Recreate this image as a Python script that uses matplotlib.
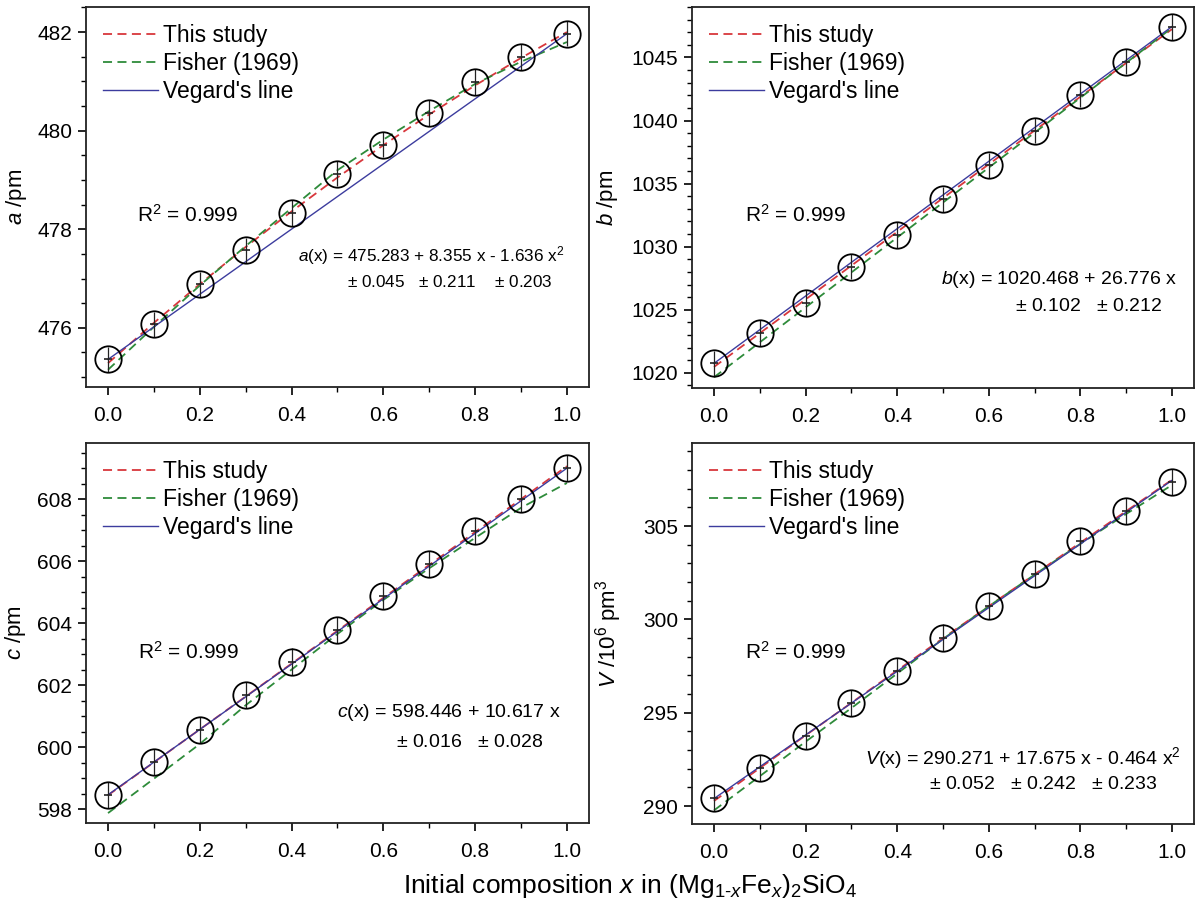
import matplotlib
matplotlib.use('Agg')
import matplotlib.pyplot as plt
from matplotlib.ticker import MultipleLocator, AutoMinorLocator

plt.rcParams['font.family'] = ['Liberation Sans', 'DejaVu Sans']
plt.rcParams['mathtext.fontset'] = 'custom'
plt.rcParams['mathtext.rm'] = 'Liberation Sans'
plt.rcParams['mathtext.it'] = 'Liberation Sans:italic'

# composition
x = [0.0, 0.1, 0.2, 0.3, 0.4, 0.5, 0.6, 0.7, 0.8, 0.9, 1.0]
x_end = [0.0, 1.0]

a_data = [475.36, 476.07, 476.88, 477.57, 478.33, 479.13, 479.72, 480.36, 480.99, 481.49, 481.97]
b_data = [1020.75, 1023.16, 1025.53, 1028.42, 1030.92, 1033.76, 1036.45, 1039.21, 1042.05, 1044.66, 1047.42]
c_data = [598.46, 599.51, 600.56, 601.69, 602.76, 603.78, 604.86, 605.90, 606.96, 608.00, 609.00]
V_data = [290.45, 292.04, 293.75, 295.52, 297.23, 299.03, 300.73, 302.41, 304.19, 305.80, 307.38]

# vertical bars drawn through each circle
a_err = [0.26] * 11
b_err = [1.0] * 11
c_err = [0.42] * 11
V_err = [0.7] * 11

# this study (fit)
a_fit = [475.283, 476.102, 476.889, 477.642, 478.363, 479.052, 479.707, 480.330, 480.920, 481.477, 482.002]
b_fit = [1020.468, 1047.244]
c_fit = [598.446, 609.063]
V_fit = [290.271, 292.034, 293.787, 295.532, 297.267, 298.993, 300.709, 302.416, 304.114, 305.803, 307.482]

# Fisher (1969)
a_fis = [475.15, 476.02, 476.86, 477.66, 478.43, 479.20, 479.82, 480.40, 480.95, 481.40, 481.80]
b_fis = [1019.65, 1047.35]
c_fis = [597.87, 598.98, 600.10, 601.35, 602.50, 603.65, 604.75, 605.77, 606.75, 607.72, 608.52]
V_fis = [289.77, 291.60, 293.45, 295.25, 297.10, 298.95, 300.70, 302.40, 304.05, 305.65, 307.20]

# Vegard's line
a_veg = [475.36, 481.97]
b_veg = [1020.75, 1047.45]
c_veg = [598.46, 609.00]
V_veg = [290.40, 307.45]

panels = [
    dict(pos=[86, 7, 589, 387], ylim=(474.80, 482.51), major=2, minor=4,
         data=a_data, err=a_err, fit=a_fit, fis=a_fis, veg=a_veg,
         ylabel=r'$\it{a}$ /pm', labx=-0.113, eqfs=12.3,
         eq1=r'$\it{a}$(x) = 475.283 + 8.355 x - 1.636 x$^2$', eq1_pos=(0.950, 0.347),
         eq2=r'$\pm$ 0.045   $\pm$ 0.211    $\pm$ 0.203', eq2_pos=(0.928, 0.276),
         r2_pos=(0.101, 0.453)),
    dict(pos=[692, 7, 1194, 388], ylim=(1018.8, 1049.0), major=5, minor=5,
         data=b_data, err=b_err, fit=b_fit, fis=b_fis, veg=b_veg,
         ylabel=r'$\it{b}$ /pm', labx=-0.143, eqfs=14,
         eq1=r'$\it{b}$(x) = 1020.468 + 26.776 x', eq1_pos=(0.966, 0.284),
         eq2=r'$\pm$ 0.102   $\pm$ 0.212', eq2_pos=(0.936, 0.213),
         r2_pos=(0.106, 0.454)),
    dict(pos=[86, 443, 589, 823], ylim=(597.55, 609.81), major=2, minor=4,
         data=c_data, err=c_err, fit=c_fit, fis=c_fis, veg=c_veg,
         ylabel=r'$\it{c}$ /pm', labx=-0.115, eqfs=14,
         eq1=r'$\it{c}$(x) = 598.446 + 10.617 x', eq1_pos=(0.943, 0.292),
         eq2=r'$\pm$ 0.016   $\pm$ 0.028', eq2_pos=(0.909, 0.213),
         r2_pos=(0.103, 0.45)),
    dict(pos=[692, 443, 1194, 824], ylim=(289.04, 309.45), major=5, minor=5,
         data=V_data, err=V_err, fit=V_fit, fis=V_fis, veg=V_veg,
         ylabel=r'$\it{V}$ /10$^6$ pm$^3$', labx=-0.136, eqfs=14,
         eq1=r'$\it{V}$(x) = 290.271 + 17.675 x - 0.464 x$^2$', eq1_pos=(0.974, 0.174),
         eq2=r'$\pm$ 0.052   $\pm$ 0.242   $\pm$ 0.233', eq2_pos=(0.928, 0.103),
         r2_pos=(0.106, 0.451)),
]

W, H = 1196, 907
fig = plt.figure(figsize=(W / 100, H / 100), dpi=100)

red = '#d8373c'
green = '#2e8b3a'
blue = '#3c3c9e'

for p in panels:
    l, t, r, b = p['pos']
    ax = fig.add_axes([l / W, 1 - b / H, (r - l) / W, (b - t) / H])

    xf = x if len(p['fit']) == len(x) else x_end
    xg = x if len(p['fis']) == len(x) else x_end
    ax.plot(xf, p['fit'], color=red, lw=1.3, ls=(0, (5, 3)), label='This study', zorder=3)
    ax.plot(xg, p['fis'], color=green, lw=1.3, ls=(0, (5, 3)), label='Fisher (1969)', zorder=3)
    ax.plot(x_end, p['veg'], color=blue, lw=1.0, label="Vegard's line", zorder=3)

    ax.errorbar(x, p['data'], yerr=p['err'], fmt='none', ecolor='#222222', elinewidth=0.9, capsize=0, zorder=4)
    ax.plot(x, p['data'], ls='none', marker='_', ms=6, mew=1.2, color='#222222', zorder=4)
    ax.plot(x, p['data'], ls='none', marker='o', ms=19, mfc='none', mec='black', mew=1.3, zorder=5)

    ax.set_xlim(-0.048, 1.048)
    ax.set_ylim(*p['ylim'])
    ax.xaxis.set_major_locator(MultipleLocator(0.2))
    ax.xaxis.set_minor_locator(AutoMinorLocator(2))
    ax.yaxis.set_major_locator(MultipleLocator(p['major']))
    ax.yaxis.set_minor_locator(AutoMinorLocator(p['minor']))
    ax.xaxis.set_major_formatter(matplotlib.ticker.FormatStrFormatter('%.1f'))
    ax.tick_params(which='major', direction='out', length=6, width=1.2, labelsize=15, pad=4)
    ax.tick_params(which='minor', direction='out', length=3.5, width=1.0)
    ax.tick_params(axis='x', which='major', pad=8)
    for s in ax.spines.values():
        s.set_linewidth(1.3)
        s.set_color('#222222')

    ax.set_ylabel(p['ylabel'], fontsize=16)
    ax.yaxis.set_label_coords(p['labx'], 0.5)

    ax.legend(loc='upper left', bbox_to_anchor=(0.0, 1.0), frameon=False, fontsize=16.5,
              handlelength=2.4, handletextpad=0.2, labelspacing=0.22, borderaxespad=0.55,
              borderpad=0.2)

    ax.text(p['r2_pos'][0], p['r2_pos'][1], r'R$^2$ = 0.999', transform=ax.transAxes,
            fontsize=15, ha='left', va='center')
    ax.text(p['eq1_pos'][0], p['eq1_pos'][1], p['eq1'], transform=ax.transAxes,
            fontsize=p['eqfs'], ha='right', va='center')
    ax.text(p['eq2_pos'][0], p['eq2_pos'][1], p['eq2'], transform=ax.transAxes,
            fontsize=p['eqfs'], ha='right', va='center')

fig.text(630 / W, 1 - 886 / H,
         r'Initial composition $\it{x}$ in (Mg$_{1\text{-}\mathit{x}}$Fe$_{\mathit{x}}$)$_2$SiO$_4$',
         fontsize=19, ha='center', va='center')

fig.savefig('out.png', dpi=100)
